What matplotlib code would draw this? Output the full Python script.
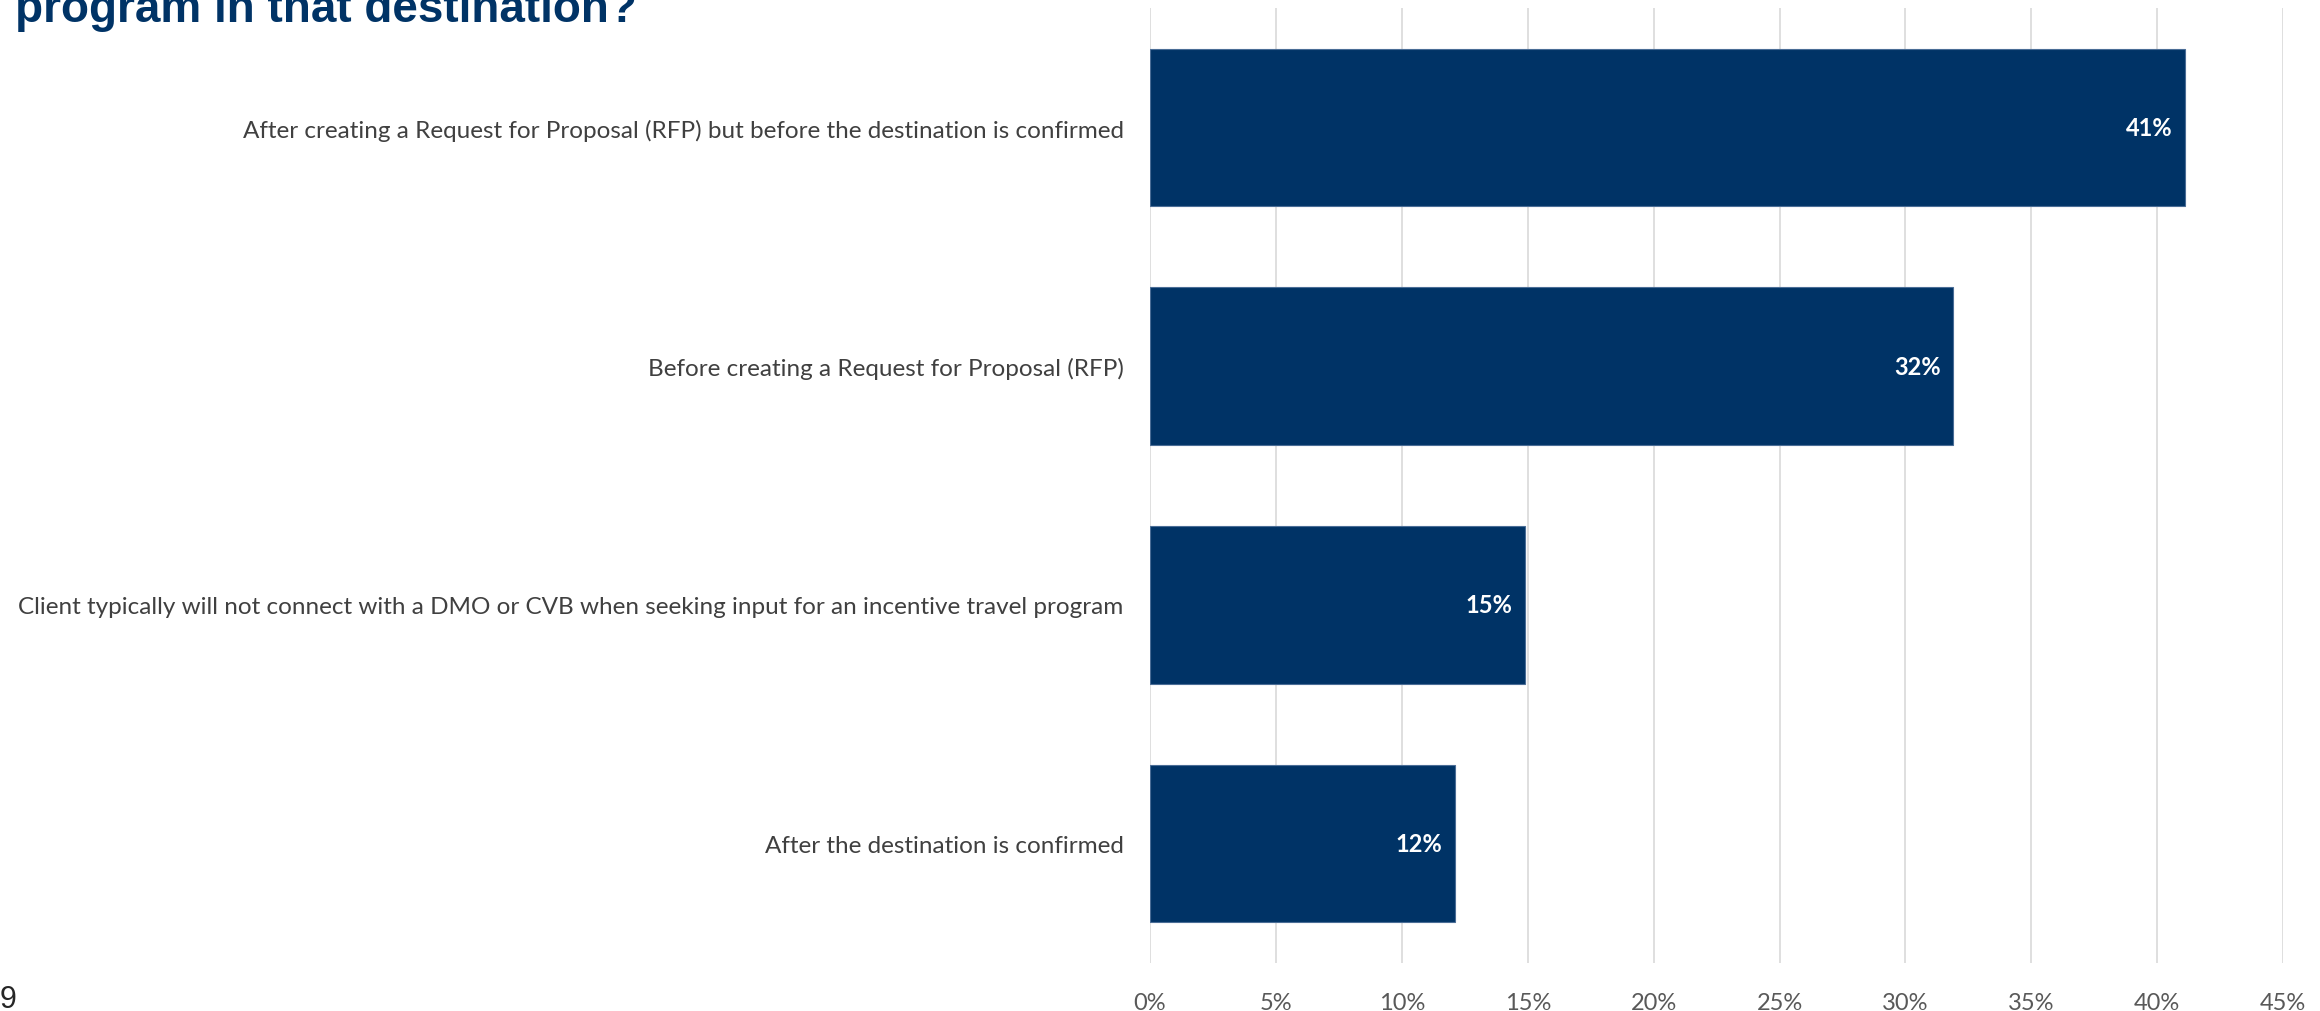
import matplotlib.pyplot as plt
from matplotlib.ticker import FuncFormatter

categories = [
    'After creating a Request for Proposal (RFP) but before the destination is confirmed',
    'Before creating a Request for Proposal (RFP)',
    'Client typically will not connect with a DMO or CVB when seeking input for an incentive travel program',
    'After the destination is confirmed',
]
values = [41.1, 31.9, 14.9, 12.1]
title = 'program in that destination?'
page_number = '9'

NAVY = '#003366'
GRID = '#d9d9d9'
LABEL = '#404040'
TICK = '#595959'


def make_chart():
    fig = plt.figure(figsize=(23.2, 10.12), dpi=100)
    ax = fig.add_axes([0.4957, 0.0474, 0.4884, 0.9436])

    ypos = list(range(len(categories)))
    ax.barh(ypos, values, height=0.66, color=NAVY, edgecolor='#4a6d96', linewidth=0.8, zorder=3)

    for y, v in zip(ypos, values):
        ax.text(v - 0.5, y, f'{v:.0f}%', ha='right', va='center',
                color='white', fontsize=17, fontweight='bold', family='Lato', zorder=4)

    ax.set_ylim(len(categories) - 0.5, -0.5)
    ax.set_xlim(0, 45)
    ax.set_xticks(range(0, 46, 5))
    ax.xaxis.set_major_formatter(FuncFormatter(lambda x, _: f'{x:.0f}%'))
    ax.set_yticks(ypos)
    ax.set_yticklabels(categories, fontsize=17.5, color=LABEL, family='Lato')

    ax.grid(axis='x', color=GRID, linewidth=1.2, zorder=0)
    for s in ax.spines.values():
        s.set_visible(False)
    ax.tick_params(axis='y', length=0, pad=19)
    ax.tick_params(axis='x', length=0, pad=21, labelsize=17, labelcolor=TICK)
    for t in ax.get_xticklabels():
        t.set_family('Lato')

    fig.text(0.0065, 0.978, title, ha='left', va='baseline', fontsize=33,
             fontweight='bold', color=NAVY, family='Liberation Sans')
    fig.text(0.0, -0.003, page_number, ha='left', va='bottom', fontsize=22,
             color='#262626', family='Liberation Sans')

    fig.savefig('out.png', dpi=100)


if __name__ == '__main__':
    make_chart()
